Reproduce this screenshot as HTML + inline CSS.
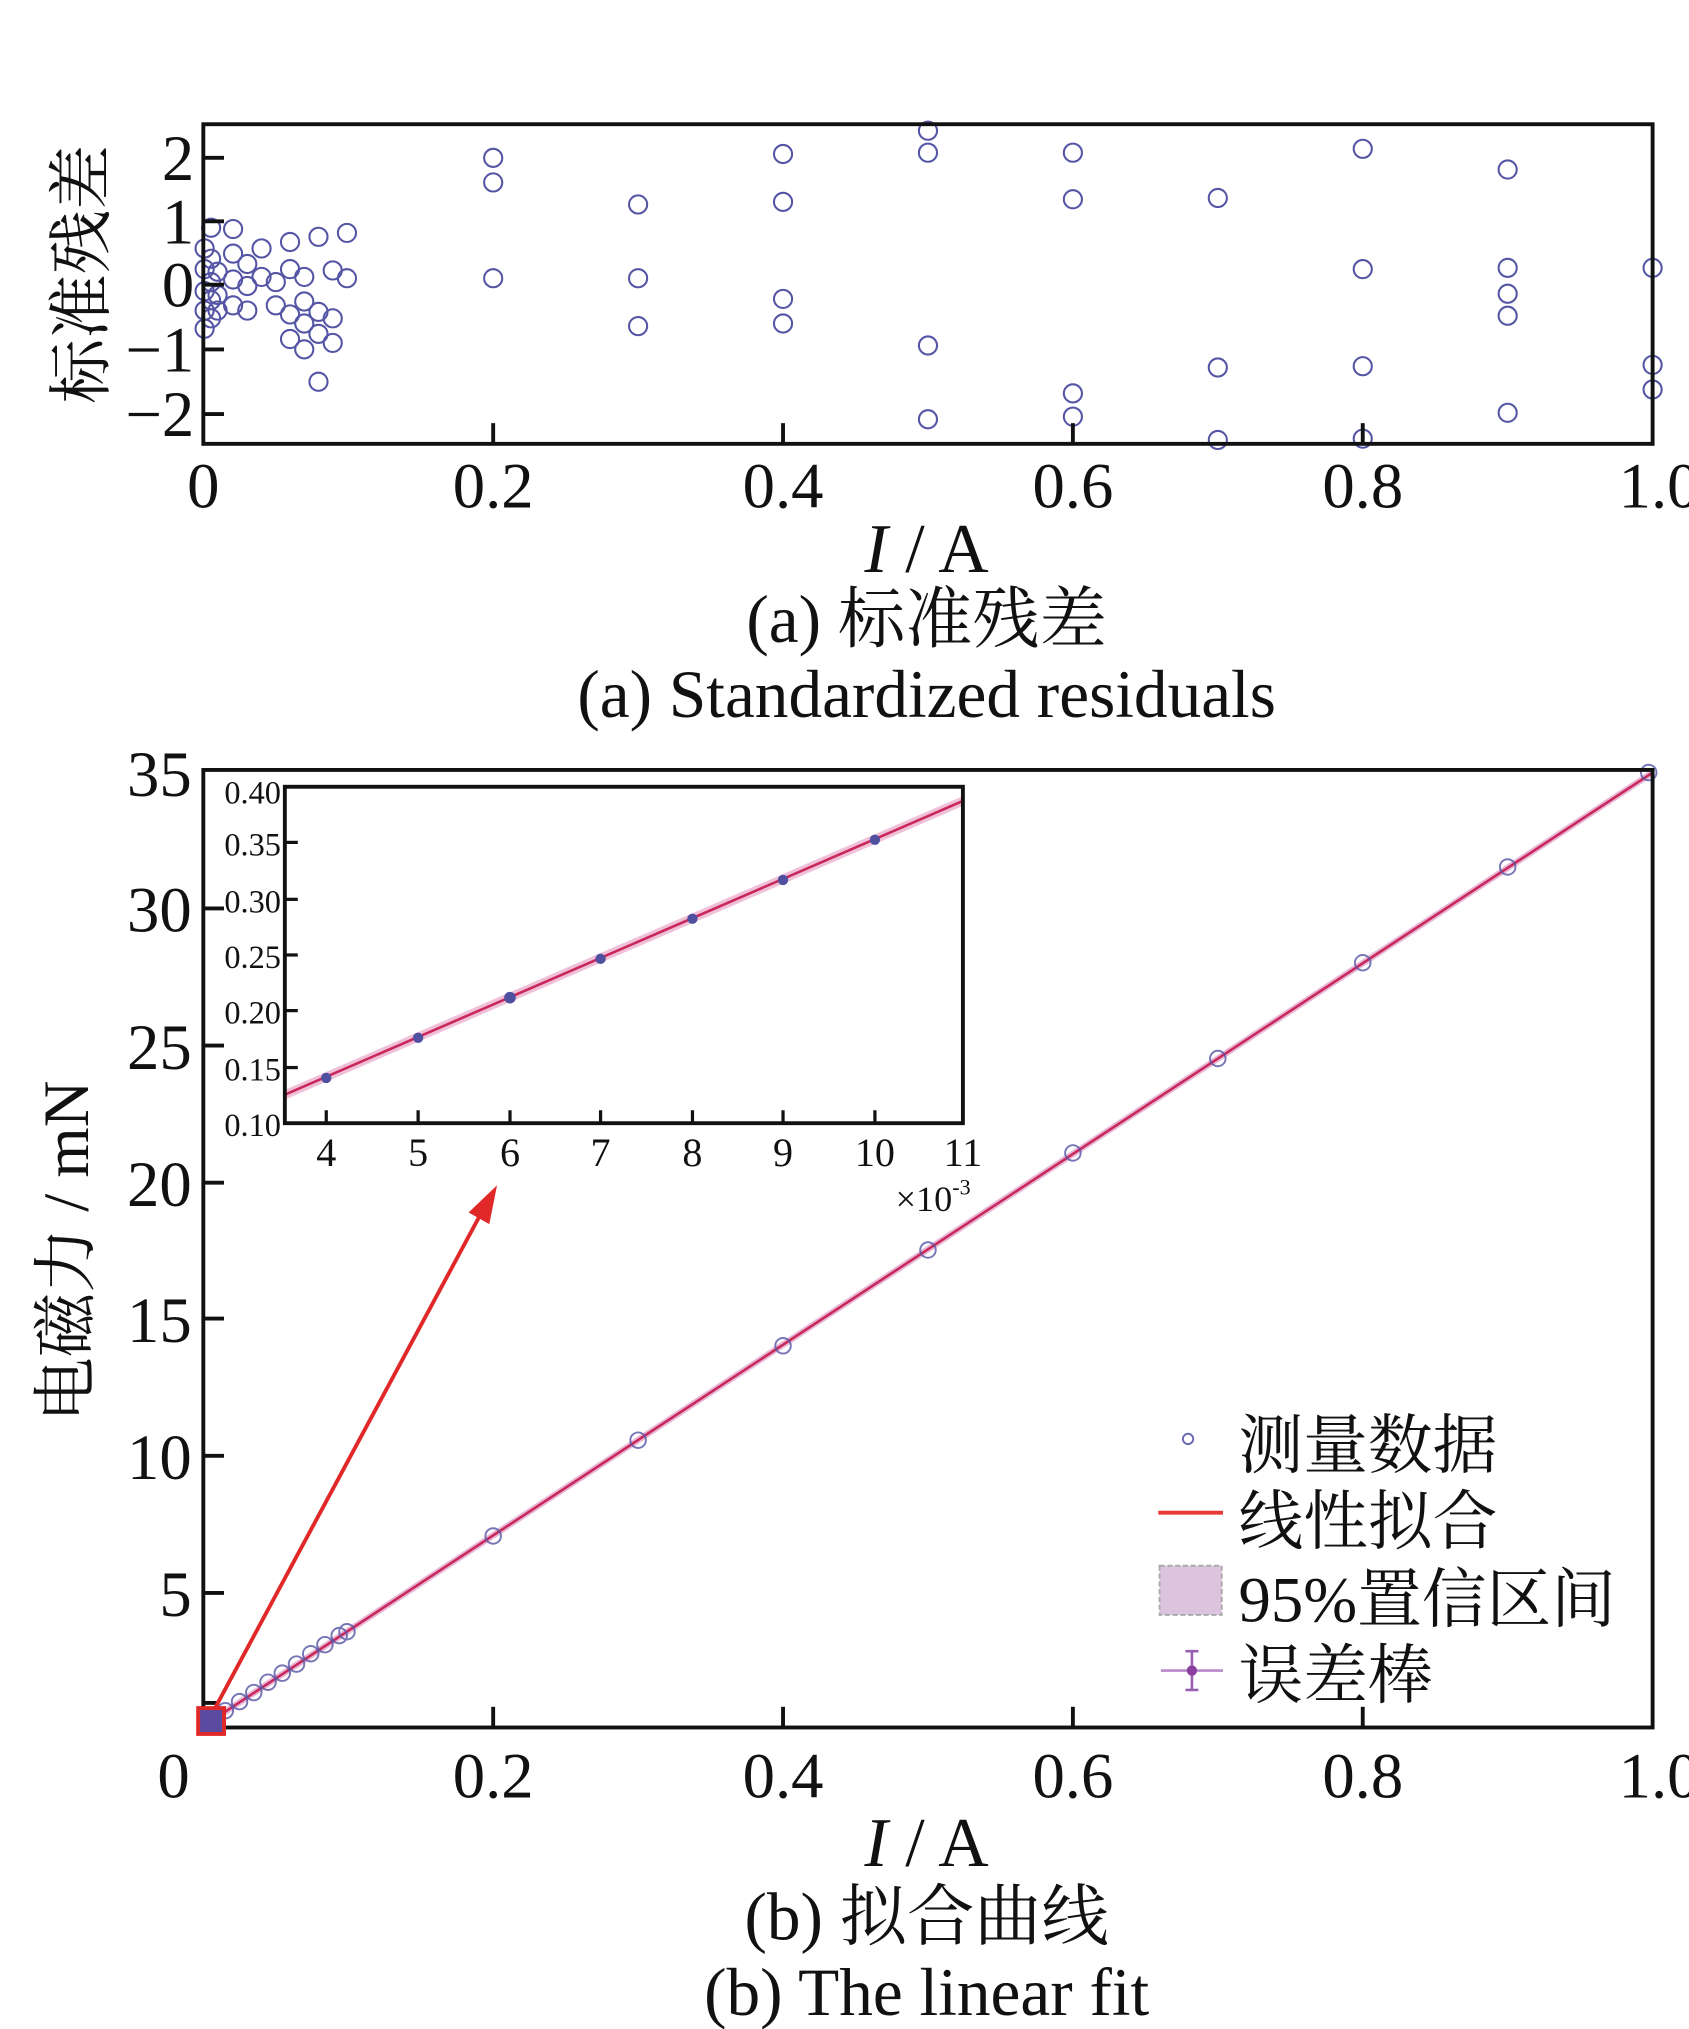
<!DOCTYPE html>
<html><head><meta charset="utf-8"><style>html,body{margin:0;padding:0;background:#fff}svg{display:block}</style></head>
<body>
<svg width="1689" height="2029" viewBox="0 0 1305 1568" xmlns="http://www.w3.org/2000/svg" font-family="'Liberation Serif','Noto Serif CJK SC',serif">
<rect width="1305" height="1568" fill="#fff"/>
<!-- TOP PLOT -->
<g fill="none" stroke="#5555a5" stroke-width="1.6">
<circle cx="381" cy="122" r="7"/><circle cx="381" cy="141" r="7"/><circle cx="381" cy="215" r="7"/>
<circle cx="493" cy="158" r="7"/><circle cx="493" cy="215" r="7"/><circle cx="493" cy="252" r="7"/>
<circle cx="605" cy="119" r="7"/><circle cx="605" cy="156" r="7"/><circle cx="605" cy="231" r="7"/><circle cx="605" cy="250" r="7"/>
<circle cx="717" cy="101" r="7"/><circle cx="717" cy="118" r="7"/><circle cx="717" cy="267" r="7"/><circle cx="717" cy="324" r="7"/>
<circle cx="829" cy="118" r="7"/><circle cx="829" cy="154" r="7"/><circle cx="829" cy="304" r="7"/><circle cx="829" cy="322" r="7"/>
<circle cx="941" cy="153" r="7"/><circle cx="941" cy="284" r="7"/><circle cx="941" cy="340" r="7"/>
<circle cx="1053" cy="115" r="7"/><circle cx="1053" cy="208" r="7"/><circle cx="1053" cy="283" r="7"/><circle cx="1053" cy="339" r="7"/>
<circle cx="1165" cy="131" r="7"/><circle cx="1165" cy="207" r="7"/><circle cx="1165" cy="227" r="7"/><circle cx="1165" cy="244" r="7"/><circle cx="1165" cy="319" r="7"/>
<circle cx="1277" cy="207" r="7"/><circle cx="1277" cy="282" r="7"/><circle cx="1277" cy="301" r="7"/>
<circle cx="158" cy="192" r="7"/><circle cx="158" cy="208" r="7"/><circle cx="158" cy="225" r="7"/><circle cx="158" cy="240" r="7"/><circle cx="158" cy="254" r="7"/>
<circle cx="163" cy="176" r="7"/><circle cx="163" cy="200" r="7"/><circle cx="163" cy="218" r="7"/><circle cx="163" cy="232" r="7"/><circle cx="163" cy="246" r="7"/>
<circle cx="168" cy="210" r="7"/><circle cx="168" cy="228" r="7"/><circle cx="168" cy="240" r="7"/>
<circle cx="180" cy="177" r="7"/><circle cx="180" cy="196" r="7"/><circle cx="180" cy="216" r="7"/><circle cx="180" cy="236" r="7"/>
<circle cx="191" cy="204" r="7"/><circle cx="191" cy="221" r="7"/><circle cx="191" cy="240" r="7"/>
<circle cx="202" cy="192" r="7"/><circle cx="202" cy="214" r="7"/><circle cx="213" cy="218" r="7"/><circle cx="213" cy="236" r="7"/>
<circle cx="224" cy="187" r="7"/><circle cx="224" cy="208" r="7"/><circle cx="224" cy="243" r="7"/><circle cx="224" cy="262" r="7"/>
<circle cx="235" cy="214" r="7"/><circle cx="235" cy="233" r="7"/><circle cx="235" cy="250" r="7"/><circle cx="235" cy="270" r="7"/>
<circle cx="246" cy="183" r="7"/><circle cx="246" cy="241" r="7"/><circle cx="246" cy="258" r="7"/><circle cx="246" cy="295" r="7"/>
<circle cx="257" cy="209" r="7"/><circle cx="257" cy="246" r="7"/><circle cx="257" cy="265" r="7"/>
<circle cx="268" cy="180" r="7"/><circle cx="268" cy="215" r="7"/>
</g>
<rect x="157" y="96" width="1120" height="247" fill="none" stroke="#111" stroke-width="3"/>
<g stroke="#111" stroke-width="3">
<line x1="157" y1="122" x2="173" y2="122"/><line x1="157" y1="171" x2="173" y2="171"/><line x1="157" y1="220" x2="173" y2="220"/><line x1="157" y1="270" x2="173" y2="270"/><line x1="157" y1="320" x2="173" y2="320"/>
<line x1="381" y1="343" x2="381" y2="327"/><line x1="605" y1="343" x2="605" y2="327"/><line x1="829" y1="343" x2="829" y2="327"/><line x1="1053" y1="343" x2="1053" y2="327"/>
</g>
<g font-size="50" fill="#111" text-anchor="end">
<text x="150" y="139">2</text><text x="150" y="188">1</text><text x="150" y="237">0</text><text x="150" y="287">−1</text><text x="150" y="337">−2</text>
</g>
<g font-size="50" fill="#111" text-anchor="middle">
<text x="157" y="392">0</text><text x="381" y="392">0.2</text><text x="605" y="392">0.4</text><text x="829" y="392">0.6</text><text x="1053" y="392">0.8</text><text x="1282" y="392">1.0</text>
<text x="716" y="442" font-size="54"><tspan font-style="italic">I</tspan> / A</text>
<text x="716" y="496" font-size="52">(a)  标准残差</text>
<text x="716" y="554" font-size="52">(a)  Standardized residuals</text>
</g>
<text transform="translate(80,212) rotate(-90)" font-size="50" text-anchor="middle" fill="#111">标准残差</text>

<!-- BOTTOM PLOT -->
<line x1="163" y1="1330" x2="1277" y2="597" stroke="#e8b8d8" stroke-width="5"/>
<line x1="163" y1="1330" x2="1277" y2="597" stroke="#c8285a" stroke-width="2"/>
<g fill="none" stroke="#5555a5" stroke-width="1.5" opacity="0.8">
<circle cx="174" cy="1322" r="6"/><circle cx="185" cy="1315" r="6"/><circle cx="196" cy="1308" r="6"/><circle cx="207" cy="1300" r="6"/><circle cx="218" cy="1293" r="6"/><circle cx="229" cy="1286" r="6"/><circle cx="240" cy="1278" r="6"/><circle cx="251" cy="1271" r="6"/><circle cx="262" cy="1264" r="6"/><circle cx="268" cy="1261" r="6"/>
<circle cx="381" cy="1187" r="6"/><circle cx="493" cy="1113" r="6"/><circle cx="605" cy="1040" r="6"/><circle cx="717" cy="966" r="6"/><circle cx="829" cy="891" r="6"/><circle cx="941" cy="818" r="6"/><circle cx="1053" cy="744" r="6"/><circle cx="1165" cy="670" r="6"/><circle cx="1274" cy="597" r="6"/>
</g>
<rect x="157" y="595" width="1120" height="740" fill="none" stroke="#111" stroke-width="3"/>
<g stroke="#111" stroke-width="3">
<line x1="157" y1="1231" x2="173" y2="1231"/><line x1="157" y1="1125" x2="173" y2="1125"/><line x1="157" y1="1019" x2="173" y2="1019"/><line x1="157" y1="914" x2="173" y2="914"/><line x1="157" y1="808" x2="173" y2="808"/><line x1="157" y1="702" x2="173" y2="702"/><line x1="157" y1="1316" x2="168" y2="1316"/>
<line x1="381" y1="1335" x2="381" y2="1319"/><line x1="605" y1="1335" x2="605" y2="1319"/><line x1="829" y1="1335" x2="829" y2="1319"/><line x1="1053" y1="1335" x2="1053" y2="1319"/>
</g>
<g font-size="50" fill="#111" text-anchor="end">
<text x="148" y="615">35</text><text x="148" y="720">30</text><text x="148" y="826">25</text><text x="148" y="932">20</text><text x="148" y="1037">15</text><text x="148" y="1143">10</text><text x="148" y="1249">5</text>
</g>
<g font-size="50" fill="#111" text-anchor="middle">
<text x="134" y="1389">0</text><text x="381" y="1389">0.2</text><text x="605" y="1389">0.4</text><text x="829" y="1389">0.6</text><text x="1053" y="1389">0.8</text><text x="1282" y="1389">1.0</text>
<text x="716" y="1442" font-size="54"><tspan font-style="italic">I</tspan> / A</text>
<text x="716" y="1499" font-size="52">(b)  拟合曲线</text>
<text x="716" y="1557" font-size="52">(b)  The linear fit</text>
</g>
<text transform="translate(68,967) rotate(-90)" font-size="50" text-anchor="middle" fill="#111">电磁力 / mN</text>

<!-- INSET -->
<rect x="220" y="608" width="524" height="260" fill="#fff"/>
<line x1="220" y1="846" x2="744" y2="619" stroke="#f0c0d8" stroke-width="7"/>
<line x1="220" y1="846" x2="744" y2="619" stroke="#c8285a" stroke-width="2"/>
<g fill="#5050a0">
<circle cx="252" cy="833" r="4"/><circle cx="323" cy="802" r="4"/><circle cx="394" cy="771" r="4.5"/><circle cx="464" cy="741" r="4"/><circle cx="535" cy="710" r="4"/><circle cx="605" cy="680" r="4"/><circle cx="676" cy="649" r="4"/>
</g>
<rect x="220" y="608" width="524" height="260" fill="none" stroke="#111" stroke-width="3"/>
<g stroke="#111" stroke-width="2.5">
<line x1="220" y1="651" x2="230" y2="651"/><line x1="220" y1="695" x2="230" y2="695"/><line x1="220" y1="738" x2="230" y2="738"/><line x1="220" y1="781" x2="230" y2="781"/><line x1="220" y1="825" x2="230" y2="825"/>
<line x1="252" y1="868" x2="252" y2="858"/><line x1="323" y1="868" x2="323" y2="858"/><line x1="394" y1="868" x2="394" y2="858"/><line x1="464" y1="868" x2="464" y2="858"/><line x1="535" y1="868" x2="535" y2="858"/><line x1="605" y1="868" x2="605" y2="858"/><line x1="676" y1="868" x2="676" y2="858"/>
</g>
<g font-size="25" fill="#111" text-anchor="end">
<text x="217" y="621">0.40</text><text x="217" y="661">0.35</text><text x="217" y="705">0.30</text><text x="217" y="748">0.25</text><text x="217" y="791">0.20</text><text x="217" y="835">0.15</text><text x="217" y="878">0.10</text>
</g>
<g font-size="31" fill="#111" text-anchor="middle">
<text x="252" y="901">4</text><text x="323" y="901">5</text><text x="394" y="901">6</text><text x="464" y="901">7</text><text x="535" y="901">8</text><text x="605" y="901">9</text><text x="676" y="901">10</text><text x="744" y="901">11</text>
</g>
<text x="692" y="936" font-size="28" fill="#111">×10<tspan font-size="17" dy="-13">-3</tspan></text>

<!-- arrow -->
<line x1="165" y1="1322" x2="372" y2="937" stroke="#e02828" stroke-width="3"/>
<polygon points="384,916 378,946 362,937" fill="#e02828"/>
<rect x="153" y="1320" width="20" height="20" fill="#5a4aa0" stroke="#e02828" stroke-width="3"/>

<!-- LEGEND -->
<circle cx="918" cy="1112" r="4" fill="none" stroke="#6a6ab0" stroke-width="1.5"/>
<line x1="895" y1="1169" x2="945" y2="1169" stroke="#e83838" stroke-width="3"/>
<rect x="896" y="1210" width="48" height="38" fill="#dcc4de" stroke="#aaa" stroke-width="1.5" stroke-dasharray="4,2"/>
<line x1="897" y1="1291" x2="945" y2="1291" stroke="#b888c8" stroke-width="2"/>
<line x1="921" y1="1276" x2="921" y2="1306" stroke="#9a60b0" stroke-width="2"/>
<line x1="916" y1="1276" x2="926" y2="1276" stroke="#9a60b0" stroke-width="2"/>
<line x1="916" y1="1306" x2="926" y2="1306" stroke="#9a60b0" stroke-width="2"/>
<circle cx="921" cy="1291" r="4" fill="#8a40a0"/>
<g font-size="50" fill="#111">
<text x="957" y="1134">测量数据</text><text x="957" y="1193">线性拟合</text><text x="957" y="1253">95%置信区间</text><text x="957" y="1312">误差棒</text>
</g>
</svg>
</body></html>
